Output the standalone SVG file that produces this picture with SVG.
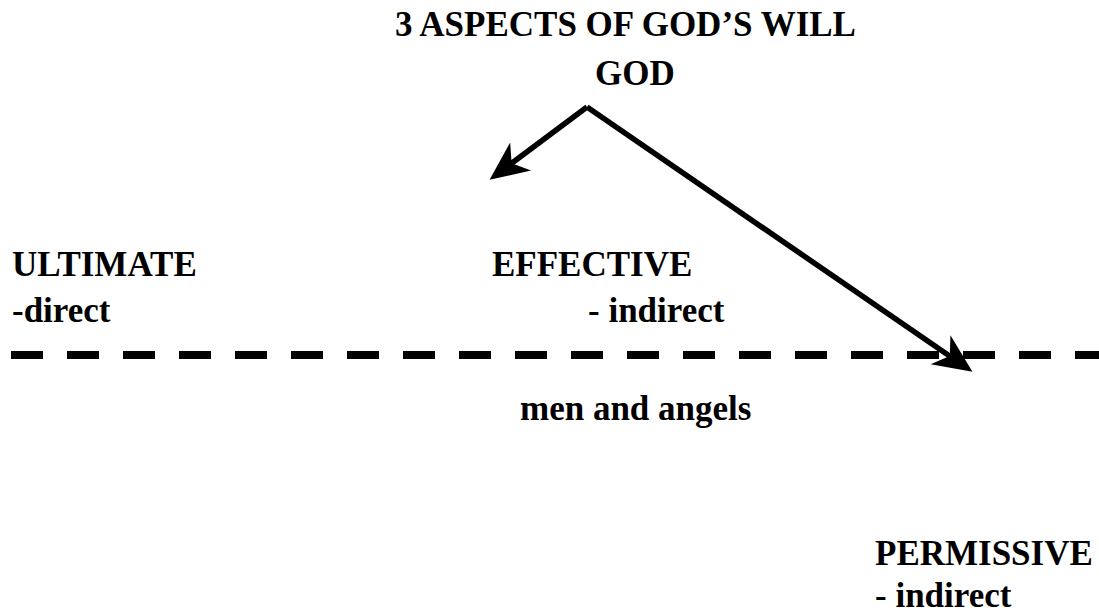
<svg xmlns="http://www.w3.org/2000/svg" width="1099" height="616" viewBox="0 0 1099 616">
<style>
text{font-family:"Liberation Serif","Times New Roman",serif;font-weight:bold;font-size:35px;fill:#000}
.conn{stroke:#000;stroke-width:5.5;fill:none}
</style>
<defs>
<marker id="ah" markerUnits="userSpaceOnUse" markerWidth="50" markerHeight="50" viewBox="-25 -20 40 40" refX="0" refY="0" orient="auto">
<path d="M12,0 L-19,-14 L-10,0 L-19,14 Z" fill="#000"/>
</marker>
</defs>
<rect width="1099" height="616" fill="#fff"/>
<g id="title"><text x="395" y="36">3 ASPECTS OF GOD’S WILL</text></g>
<g id="god"><text x="595" y="85">GOD</text></g>
<g id="ultimate"><text x="12" y="276">ULTIMATE</text><text x="12" y="322">-direct</text></g>
<g id="effective"><text x="492" y="276">EFFECTIVE</text><text x="588" y="322">- indirect</text></g>
<g id="boundary"><line x1="11" y1="355" x2="1099" y2="355" stroke="#000" stroke-width="8" stroke-dasharray="32 24"/></g>
<g id="men"><text x="520" y="420">men and angels</text></g>
<g id="permissive"><text x="875" y="565">PERMISSIVE</text><text x="875" y="607">- indirect</text></g>
<g id="connectors">
<path class="conn" d="M587,107 L501.6,170.8" marker-end="url(#ah)"/>
<path class="conn" d="M587,107 L960.1,363.2" marker-end="url(#ah)"/>
</g>
</svg>
